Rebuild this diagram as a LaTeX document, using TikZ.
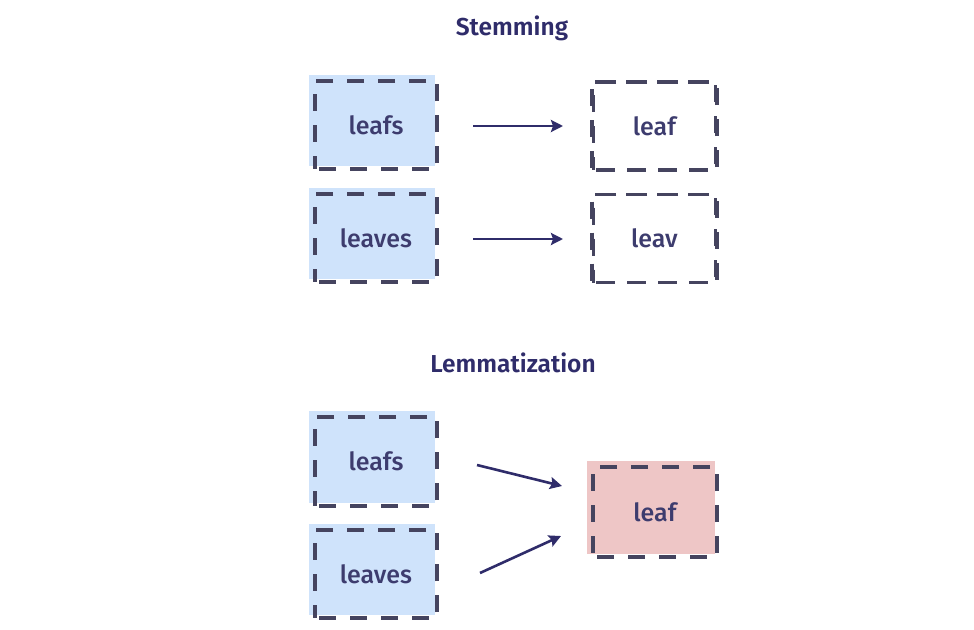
\documentclass[tikz,border=0pt]{standalone}
\usepackage{fontspec}
\setmainfont{Fira Sans}
\newfontfamily\wordfont{Fira Sans Medium}
\newfontfamily\headfont{Fira Sans SemiBold}
\usetikzlibrary{arrows.meta,calc}

\definecolor{inkblue}{HTML}{2F2C6A}
\definecolor{boxtext}{HTML}{3D3C6E}
\definecolor{dashgray}{HTML}{45445F}
\definecolor{paleblue}{HTML}{CFE3FB}
\definecolor{palered}{HTML}{EEC6C6}

\tikzset{
  wordbox/.style={draw=dashgray, line width=3.2pt, dash pattern=on 17pt off 14pt, dash phase=-4pt,
    minimum width=122pt, minimum height=88pt, inner sep=0pt,
    text=boxtext, font=\wordfont\fontsize{25}{29}\selectfont},
  heading/.style={text=inkblue, font=\headfont\fontsize{24.5}{28}\selectfont},
  mapto/.style={draw=inkblue, line width=2.6pt, -{Stealth[length=12pt,width=12pt,inset=2pt]}},
}

% shaded rectangle sitting slightly up and to the left of a box
\newcommand{\backfill}[2]{%
  \fill[#2] ($(#1.north west)+(-4,-4)$) rectangle ($(#1.south east)+(-4,-5)$);}

\begin{document}
\begin{tikzpicture}[x=1pt,y=-1pt]
  \path[use as bounding box, fill=white] (0,0) rectangle (974,629);

  % ---- Stemming ----
  \node[heading] (stemtitle) at (512,28) {Stemming};

  \node[wordbox, minimum width=122pt] (sa) at (376,125) {};
  \node[wordbox, minimum width=125pt] (sb) at (654.5,126) {};
  \node[wordbox, minimum width=122pt] (sc) at (376,238) {};
  \node[wordbox, minimum width=125pt] (sd) at (654.5,238.5) {};

  \backfill{sa}{paleblue}
  \backfill{sc}{paleblue}

  \node[wordbox] at (sa) {leafs};
  \node[wordbox] at (sb) {leaf};
  \node[wordbox] at (sc) {leaves};
  \node[wordbox] at (sd) {leav};

  \coordinate (a1s) at (473,126);
  \coordinate (a1e) at (563,126);
  \coordinate (a2s) at (473,239);
  \coordinate (a2e) at (563,239);
  \draw[mapto] (a1s) -- (a1e);
  \draw[mapto] (a2s) -- (a2e);

  % ---- Lemmatization ----
  \node[heading] (lemtitle) at (513,363) {Lemmatization};

  \node[wordbox, minimum width=122pt, minimum height=89pt] (la) at (376,461.5) {};
  \node[wordbox, minimum width=122pt] (lb) at (376,574) {};
  \node[wordbox, minimum width=124pt, minimum height=90pt] (lc) at (655,512) {};

  \backfill{la}{paleblue}
  \backfill{lb}{paleblue}
  \backfill{lc}{palered}

  \node[wordbox, minimum width=122pt, minimum height=89pt] at (la) {leafs};
  \node[wordbox] at (lb) {leaves};
  \node[wordbox, minimum width=124pt, minimum height=90pt] at (lc) {leaf};

  \coordinate (b1s) at (477,465);
  \coordinate (b1e) at (562,486);
  \coordinate (b2s) at (480,573);
  \coordinate (b2e) at (561,536);
  \draw[mapto] (b1s) -- (b1e);
  \draw[mapto] (b2s) -- (b2e);
\end{tikzpicture}
\end{document}
